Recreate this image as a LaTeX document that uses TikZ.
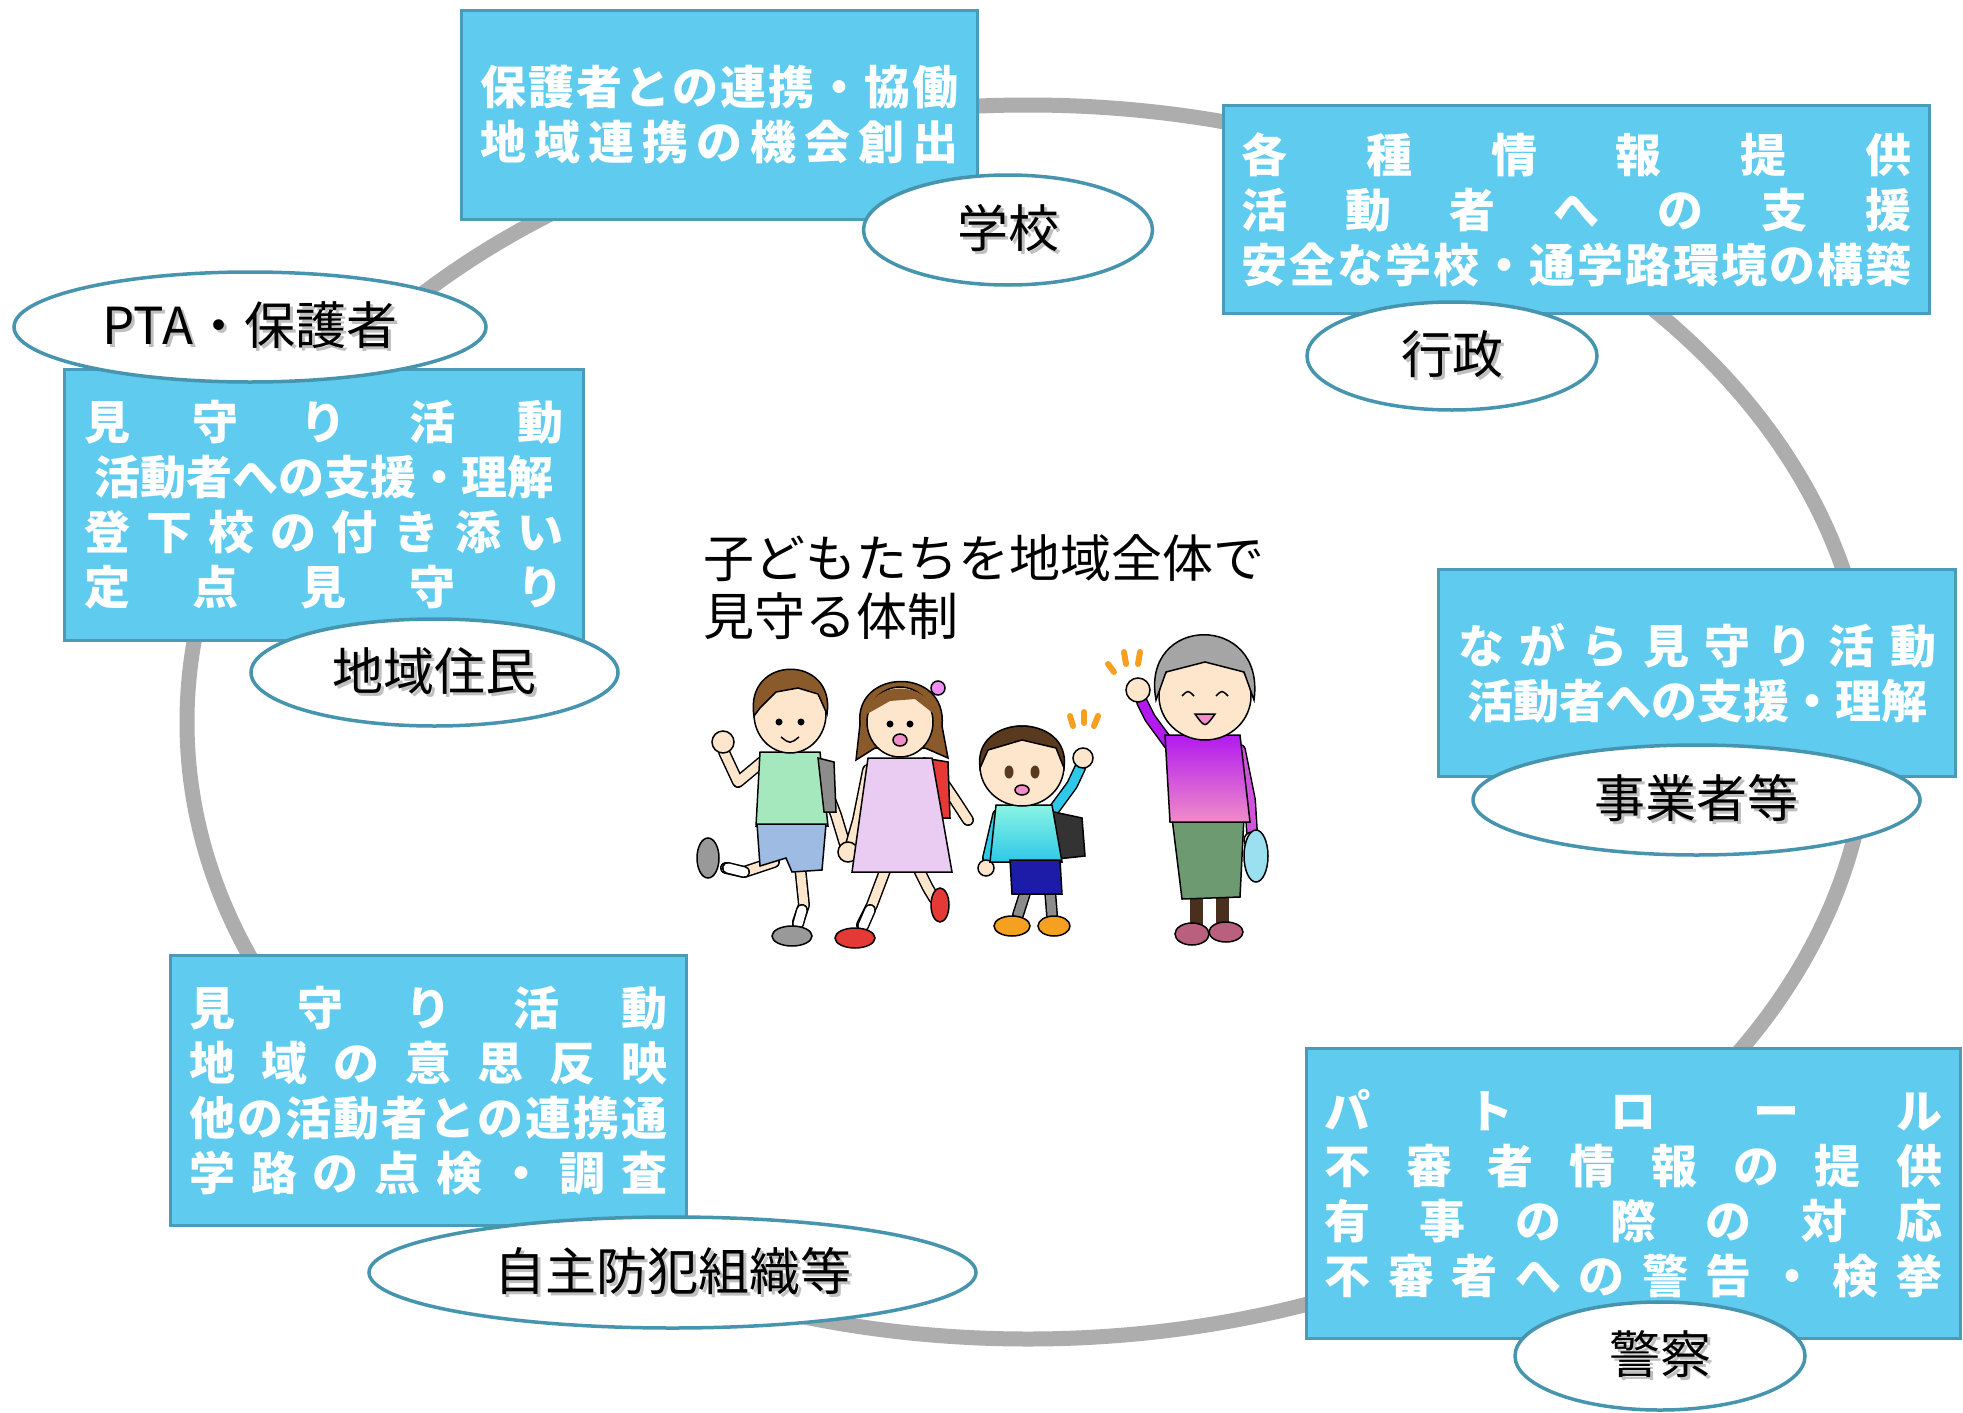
\documentclass[tikz,border=0pt]{standalone}
\usepackage{fontspec}
\newfontfamily\jp{Noto Sans CJK JP}
\usetikzlibrary{shapes.geometric}

\definecolor{boxfill}{HTML}{5FCBEF}
\definecolor{boxline}{HTML}{4A9BB8}
\definecolor{ovalline}{HTML}{4794AF}
\definecolor{ringgray}{HTML}{ADADAD}
\definecolor{skincol}{HTML}{FDE6CC}
\definecolor{hairbrown}{HTML}{8B5A2B}
\definecolor{hairdark}{HTML}{5A3A1E}
\definecolor{hairgray}{HTML}{A5A5A5}
\definecolor{shirtgreen}{HTML}{A6E8BE}
\definecolor{shortblue}{HTML}{9DBBE3}
\definecolor{dresspink}{HTML}{EACBF2}
\definecolor{packred}{HTML}{E53935}
\definecolor{cyanlight}{HTML}{8AF4E4}
\definecolor{cyandark}{HTML}{2EC8E8}
\definecolor{navyblue}{HTML}{1C1CA8}
\definecolor{purpletop}{HTML}{B21AF0}
\definecolor{pinkbot}{HTML}{F08CC8}
\definecolor{skirtgreen}{HTML}{6E9A72}
\definecolor{legbrown}{HTML}{4A2E1E}
\definecolor{shoemauve}{HTML}{B8607E}
\definecolor{bagblue}{HTML}{9BE0F0}
\definecolor{markorange}{HTML}{F5A020}

\makeatletter
\def\spread@loop#1#2\@nil{#1\if\relax\detokenize{#2}\relax\else\hfill\spread@loop#2\@nil\fi}
\newcommand\spreadline[1]{\makebox[\hsize][s]{\spread@loop#1\@nil}}
\makeatother
\newcommand\shadowed[1]{\makebox[0pt][l]{\raisebox{-3pt}{\hspace{3pt}\textcolor{black!25}{#1}}}#1}
\newcommand\limb[2]{\draw[line width=12pt,line cap=round,line join=round] #2;
  \draw[line width=9pt,line cap=round,line join=round,#1] #2;}

\begin{document}
\begin{tikzpicture}[x=1pt,y=-1pt,
  ring/.style={draw=ringgray,line width=15pt},
  infobox/.style={rectangle,draw=boxline,fill=boxfill,line width=3pt,inner sep=0pt,align=center,
    text=white,font=\jp\bfseries\fontsize{46}{55}\selectfont},
  role/.style={ellipse,draw=ovalline,fill=white,line width=3.5pt,inner sep=0pt,
    font=\jp\fontsize{51}{60}\selectfont},
  outline/.style={draw=black,line width=1.5pt},
  cheer/.style={draw=markorange,line width=6pt,line cap=round}]

\fill[white] (0,0) rectangle (1963,1413);
\useasboundingbox (0,0) rectangle (1963,1413);

% ring
\draw[ring] (1028,722) ellipse [x radius=841, y radius=617];

% boxes
\node[infobox,text width=478pt,minimum width=516pt,minimum height=209pt] (gakkoubox) at (719.5,115)
  {\spreadline{保護者との連携・協働}\\\spreadline{地域連携の機会創出}};
\node[infobox,text width=670pt,minimum width=706pt,minimum height=208pt] (gyouseibox) at (1576.5,209.5)
  {\spreadline{各種情報提供}\\\spreadline{活動者への支援}\\\spreadline{安全な学校・通学路環境の構築}};
\node[infobox,text width=479pt,minimum width=519pt,minimum height=271pt] (ptabox) at (324,505)
  {\spreadline{見守り活動}\\活動者への支援・理解\\\spreadline{登下校の付き添い}\\\spreadline{定点見守り}};
\node[infobox,text width=478pt,minimum width=517pt,minimum height=207pt] (jigyoubox) at (1697,673)
  {\spreadline{ながら見守り活動}\\活動者への支援・理解};
\node[infobox,text width=478pt,minimum width=516pt,minimum height=270pt] (bouhanbox) at (428.5,1090.5)
  {\spreadline{見守り活動}\\\spreadline{地域の意思反映}\\\spreadline{他の活動者との連携通}\\\spreadline{学路の点検・調査}};
\node[infobox,text width=618pt,minimum width=654pt,minimum height=290pt] (keisatsubox) at (1633.5,1193.5)
  {\spreadline{パトロール}\\\spreadline{不審者情報の提供}\\\spreadline{有事の際の対応}\\\spreadline{不審者への警告・検挙}};

% roles
\node[role,minimum width=289pt,minimum height=110pt] (gakkou) at (1008,230) {\shadowed{学校}};
\node[role,minimum width=290pt,minimum height=108pt] (gyousei) at (1452,356) {\shadowed{行政}};
\node[role,minimum width=472pt,minimum height=110pt] (pta) at (250,327) {\shadowed{PTA・保護者}};
\node[role,minimum width=367pt,minimum height=107pt] (juumin) at (434.5,672.5) {\shadowed{地域住民}};
\node[role,minimum width=447pt,minimum height=110pt] (jigyousha) at (1696.5,800) {\shadowed{事業者等}};
\node[role,minimum width=607pt,minimum height=111pt] (bouhan) at (672.5,1272.5) {\shadowed{自主防犯組織等}};
\node[role,minimum width=290pt,minimum height=108pt] (keisatsu) at (1660,1356) {\shadowed{警察}};

\node[anchor=west,align=left,inner sep=0pt,font=\jp\fontsize{51}{58}\selectfont] (title) at (703,587)
  {子どもたちを地域全体で\\見守る体制};

% children and grandmother
\begin{scope}
% boy
\limb{skincol}{(762,762) -- (738,782) -- (724,752)}
\draw[outline,fill=skincol] (723,742) circle (11);
\limb{skincol}{(818,768) -- (836,815) -- (846,848)}
\limb{skincol}{(774,862) -- (744,872) -- (726,868)}
\limb{white}{(744,872) -- (728,868)}
\draw[outline,fill=black!40] (708,858) ellipse [x radius=11, y radius=20];
\limb{skincol}{(800,866) -- (804,905) -- (798,922)}
\limb{white}{(802,910) -- (798,924)}
\draw[outline,fill=black!40] (792,936) ellipse [x radius=20, y radius=10];
\draw[outline,fill=shirtgreen] (760,752) -- (820,752) -- (828,826) -- (756,826) -- cycle;
\draw[outline,fill=black!45] (818,758) -- (834,762) -- (836,812) -- (824,812) -- cycle;
\draw[outline,fill=shortblue] (757,824) -- (826,824) -- (822,870) -- (792,872) -- (786,858) -- (760,866) -- cycle;
\draw[outline,fill=skincol] (790,714) ellipse [x radius=36, y radius=39];
\draw[outline,fill=hairbrown] (754,716) .. controls (744,654) and (836,654) .. (827,714) -- (818,694) -- (798,688) -- (776,692) -- (760,708) -- cycle;
\fill (779,722) circle (3.5); \fill (801,722) circle (3.5);
\draw[line width=1.5pt] (781,737) .. controls (790,744) .. (799,737);
% girl
\limb{skincol}{(868,770) -- (858,820) -- (850,848)}
\draw[outline,fill=skincol] (848,852) circle (10);
\limb{skincol}{(936,772) -- (955,800) -- (968,820)}
\limb{skincol}{(886,868) -- (872,905) -- (862,925)}
\limb{white}{(870,910) -- (863,926)}
\draw[outline,fill=packred] (855,938) ellipse [x radius=20, y radius=10];
\limb{skincol}{(918,868) -- (928,888) -- (934,898)}
\draw[outline,fill=packred] (940,905) ellipse [x radius=9, y radius=17];
\draw[outline,fill=packred] (924,758) -- (948,762) -- (950,818) -- (932,818) -- cycle;
\draw[outline,fill=hairbrown] (860,724) .. controls (854,668) and (948,666) .. (942,726) -- (948,758) -- (925,748) -- (875,748) -- (856,760) -- cycle;
\draw[outline,fill=dresspink] (868,758) -- (932,758) -- (952,872) -- (852,872) -- cycle;
\draw[outline,fill=skincol] (900,722) ellipse [x radius=33, y radius=35];
\fill[hairbrown] (867,714) .. controls (871,680) and (929,680) .. (934,714) -- (915,699) -- (890,701) -- cycle;
\draw[outline,fill=dresspink!70!magenta] (938,688) circle (7);
\fill (890,724) circle (3.5); \fill (910,724) circle (3.5);
\draw[outline,fill=pinkbot] (900,740) ellipse [x radius=7, y radius=6];
% small boy
\limb{cyandark}{(1050,815) -- (1072,785) -- (1080,768)}
\draw[outline,fill=skincol] (1083,758) circle (10);
\limb{cyandark}{(998,815) -- (988,858)}
\draw[outline,fill=skincol] (986,868) circle (8);
\limb{black!45}{(1026,890) -- (1018,915)}
\limb{black!45}{(1050,890) -- (1052,915)}
\draw[outline,fill=markorange] (1012,926) ellipse [x radius=18, y radius=10];
\draw[outline,fill=markorange] (1054,926) ellipse [x radius=16, y radius=10];
\draw[outline,fill=black!80] (1045,810) -- (1082,818) -- (1085,856) -- (1048,860) -- cycle;
\draw[outline,top color=cyanlight,bottom color=cyandark] (996,805) -- (1052,805) -- (1062,862) -- (990,862) -- cycle;
\draw[outline,fill=navyblue] (1010,860) -- (1060,860) -- (1062,894) -- (1012,894) -- cycle;
\draw[outline,fill=skincol] (1022,766) ellipse [x radius=42, y radius=40];
\draw[outline,fill=hairdark] (980,768) .. controls (972,712) and (1072,712) .. (1064,768) -- (1056,748) -- (1022,740) -- (988,750) -- cycle;
\fill[hairdark] (1009,772) ellipse [x radius=4.5, y radius=6.5];
\fill[hairdark] (1035,772) ellipse [x radius=4.5, y radius=6.5];
\draw[outline,fill=pinkbot] (1022,790) ellipse [x radius=7, y radius=5];
\draw[cheer] (1070,716) -- (1073,726); \draw[cheer] (1084,712) -- (1084,723); \draw[cheer] (1098,716) -- (1094,726);
% grandmother
\limb{purpletop}{(1172,748) -- (1150,718) -- (1142,702)}
\draw[outline,fill=skincol] (1138,690) circle (12);
\limb{purpletop!50!pinkbot}{(1240,750) -- (1250,800) -- (1252,832)}
\draw[outline,fill=skincol] (1252,840) circle (8);
\draw[outline,fill=bagblue] (1256,856) ellipse [x radius=12, y radius=26];
\fill[legbrown] (1190,895) rectangle (1203,926);
\fill[legbrown] (1216,895) rectangle (1229,926);
\draw[outline,fill=shoemauve] (1192,934) ellipse [x radius=17, y radius=11];
\draw[outline,fill=shoemauve] (1226,932) ellipse [x radius=17, y radius=10];
\draw[outline,fill=skirtgreen] (1172,818) -- (1244,816) -- (1240,897) -- (1182,899) -- cycle;
\draw[outline,top color=purpletop,bottom color=pinkbot] (1165,735) -- (1240,735) -- (1250,822) -- (1170,822) -- cycle;
\draw[outline,fill=skincol] (1205,696) ellipse [x radius=46, y radius=44];
\draw[outline,fill=hairgray] (1156,700) .. controls (1140,614) and (1266,612) .. (1254,700) -- (1244,672) -- (1205,662) -- (1166,672) -- cycle;
\draw[line width=1.5pt] (1182,696) .. controls (1188,690) .. (1194,696);
\draw[line width=1.5pt] (1216,696) .. controls (1222,690) .. (1228,696);
\draw[outline,fill=pinkbot] (1195,714) .. controls (1205,728) .. (1215,714) -- cycle;
\draw[cheer] (1108,664) -- (1114,672); \draw[cheer] (1124,652) -- (1126,664); \draw[cheer] (1140,652) -- (1138,664);
\end{scope}

\end{tikzpicture}
\end{document}
